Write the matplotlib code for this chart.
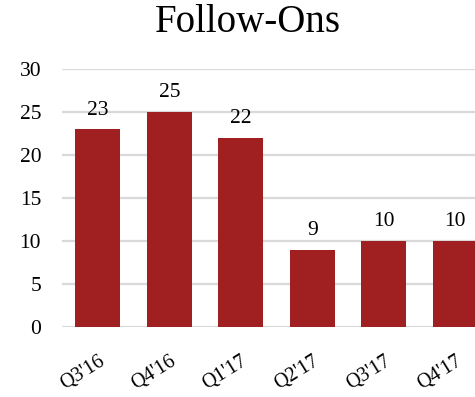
import matplotlib
matplotlib.use("Agg")
import matplotlib.pyplot as plt

quarters = ["Q3'16", "Q4'16", "Q1'17", "Q2'17", "Q3'17", "Q4'17"]
follow_ons = [23, 25, 22, 9, 10, 10]
y_ticks = [0, 5, 10, 15, 20, 25, 30]

bar_color = "#A01F21"
grid_color = "#D9D9D9"
serif = ["Liberation Serif", "DejaVu Serif"]

fig = plt.figure(figsize=(4.75, 3.97), dpi=100)
ax = fig.add_axes([62 / 475, 70 / 397, 413 / 475, 258 / 397])

x = range(len(quarters))
bars = ax.bar(x, follow_ons, width=0.63, color=bar_color, zorder=3)

ax.set_xlim(-0.5, -0.5 + 413 / 71.5)
ax.set_ylim(0, 30)
ax.set_yticks(y_ticks)
ax.set_yticklabels([str(v) for v in y_ticks], fontfamily=serif, fontsize=15.5)
ax.yaxis.grid(True, color=grid_color, linewidth=1.6, zorder=0)
ax.tick_params(axis="y", length=0, pad=15)
ax.tick_params(axis="x", length=0, pad=18)

ax.set_xticks(list(x))
ax.set_xticklabels(quarters, rotation=32, ha="right", rotation_mode="anchor",
                   fontfamily=serif, fontsize=14.5)

for spine in ax.spines.values():
    spine.set_visible(False)

for rect, v in zip(bars, follow_ons):
    ax.annotate(str(v), (rect.get_x() + rect.get_width() / 2, v),
                xytext=(0, 10.5), textcoords="offset points",
                ha="center", va="baseline", fontfamily=serif, fontsize=15.5,
                clip_on=False)

fig.text(248 / 475, 1 - 22 / 397, "Follow-Ons", ha="center", va="center",
         fontfamily=serif, fontsize=28)

fig.savefig("out.png", dpi=100)
